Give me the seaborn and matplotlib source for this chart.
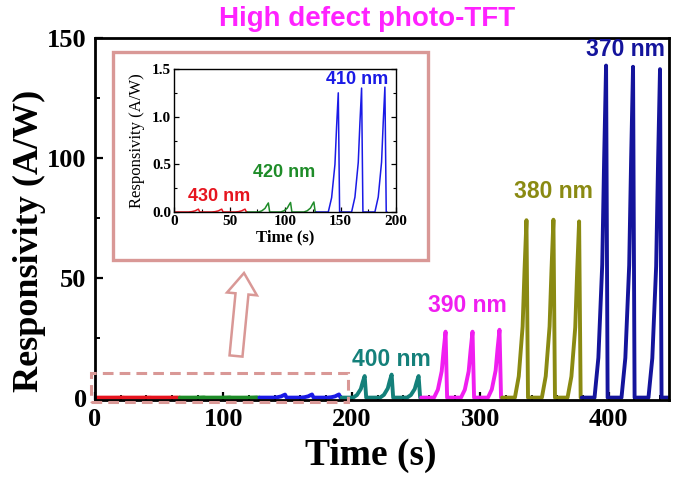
import matplotlib
matplotlib.use("Agg")
import matplotlib.pyplot as plt
from matplotlib.patches import Rectangle, FancyArrow
from matplotlib.ticker import MultipleLocator, FormatStrFormatter
import pandas as pd
import seaborn as sns

# ---- data ----
wavelengths = ["430 nm", "420 nm", "410 nm", "400 nm", "390 nm", "380 nm", "370 nm"]
colors = ["#E6141E", "#1E8C28", "#1A1AE6", "#14807A", "#F01EF0", "#8A8A12", "#14149C"]
seg_edges = [0, 66, 128, 192, 254, 317, 379, 447]
peak_times = [
    [22, 43, 64],
    [85, 105, 126],
    [148, 169, 190],
    [210, 231, 252],
    [273, 294, 315],
    [336, 357, 377],
    [398, 419, 440],
]
peak_heights = [
    [0.03, 0.03, 0.03],
    [0.095, 0.10, 0.105],
    [1.25, 1.30, 1.31],
    [9.0, 9.6, 9.0],
    [27.5, 27.5, 28.3],
    [74.0, 74.2, 73.5],
    [138.5, 138.0, 137.0],
]
# shape of one light pulse: seconds from the peak, fraction of the peak
pulse_offsets = [-9.0, -6.0, -3.0, -1.5, 0.0, 1.2]
pulse_fracs = [0.0, 0.12, 0.40, 0.72, 1.0, 0.0]

xticks_main = [0, 100, 200, 300, 400]
yticks_main = [0, 50, 100, 150]
label_pos_main = {"400 nm": (231, 16), "390 nm": (290, 38.5),
                  "380 nm": (357, 86), "370 nm": (413, 145)}
label_pos_inset = {"430 nm": (41, 0.16), "420 nm": (99, 0.41), "410 nm": (165, 1.385)}

PINK = "#D99896"
SANS = ["Liberation Sans", "DejaVu Sans"]


def build_frame():
    rows = []
    for i, wl in enumerate(wavelengths):
        t = [seg_edges[i]]
        r = [0.0]
        for tp, hp in zip(peak_times[i], peak_heights[i]):
            for off, fr in zip(pulse_offsets, pulse_fracs):
                t.append(tp + off)
                r.append(hp * fr)
        t.append(seg_edges[i + 1])
        r.append(0.0)
        for tt, rr in zip(t, r):
            rows.append({"time": tt, "resp": rr, "wavelength": wl})
    return pd.DataFrame(rows)


df = build_frame()
palette = dict(zip(wavelengths, colors))

sns.set_theme(style="ticks")
plt.rcParams["font.family"] = ["Liberation Serif", "DejaVu Serif"]
plt.rcParams["xtick.direction"] = "in"
plt.rcParams["ytick.direction"] = "in"
for key in ["text.color", "axes.labelcolor", "xtick.color", "ytick.color",
            "axes.edgecolor"]:
    plt.rcParams[key] = "black"

fig = plt.figure(figsize=(6.75, 4.79), dpi=100)
W, H = 675.0, 479.0

# ---- main axes ----
ax = fig.add_axes([95 / W, 1 - 400 / H, 574 / W, 362 / H])
sns.lineplot(data=df, x="time", y="resp", hue="wavelength", palette=palette,
             units="wavelength", estimator=None, sort=False, lw=2.8,
             legend=False, ax=ax)
ax.set_xlim(0, 447)
ax.set_ylim(-1, 150)
ax.set_xticks(xticks_main)
ax.set_yticks(yticks_main)
ax.xaxis.set_minor_locator(MultipleLocator(20))
ax.yaxis.set_minor_locator(MultipleLocator(25))
ax.tick_params(which="major", length=6, width=1.6, labelsize=19, pad=6)
ax.tick_params(which="minor", length=3.5, width=1.4)
for lab in ax.get_xticklabels() + ax.get_yticklabels():
    lab.set_fontweight("bold")
for s in ax.spines.values():
    s.set_linewidth(2.0)
ax.set_xlabel("Time (s)", fontsize=27, fontweight="bold")
ax.xaxis.set_label_coords(0.48, -0.105)
ax.set_ylabel("Responsivity (A/W)", fontsize=26, fontweight="bold")
ax.yaxis.set_label_coords(-0.085, 0.44)
fig.text(367 / W, 1 - 19 / H, "High defect photo-TFT", fontsize=20,
         fontweight="bold", color="#FF22FF", family=SANS,
         ha="center", va="center")

for wl, (tx, ty) in label_pos_main.items():
    ax.text(tx, ty, wl, color=palette[wl], fontsize=16.5, fontweight="bold",
            family=SANS, ha="center", va="center")

# dashed box marking the zoomed region
ax.add_patch(Rectangle((-3, -2), 200, 12.4, fill=False, ec=PINK, lw=2.2,
                       ls=(0, (3.5, 2)), clip_on=False, zorder=5))

# ---- inset ----
ins = fig.add_axes([174 / W, 1 - 212 / H, 222 / W, 143 / H])
inset_df = df[df["wavelength"].isin(wavelengths[:3])]
sns.lineplot(data=inset_df, x="time", y="resp", hue="wavelength", palette=palette,
             units="wavelength", estimator=None, sort=False, lw=1.1,
             legend=False, ax=ins)
ins.set_xlim(0, 200)
ins.set_ylim(0, 1.5)
ins.set_xticks([0, 50, 100, 150, 200])
ins.set_yticks([0.0, 0.5, 1.0, 1.5])
ins.xaxis.set_minor_locator(MultipleLocator(25))
ins.yaxis.set_minor_locator(MultipleLocator(0.25))
ins.yaxis.set_major_formatter(FormatStrFormatter("%.1f"))
ins.tick_params(which="both", right=True, labelsize=11, pad=2)
ins.tick_params(which="major", length=3.5, width=0.9)
ins.tick_params(which="minor", length=2, width=0.8)
for lab in ins.get_xticklabels() + ins.get_yticklabels():
    lab.set_fontweight("bold")
for s in ins.spines.values():
    s.set_linewidth(1.0)
ins.set_xlabel("Time (s)", fontsize=12, fontweight="bold", labelpad=1)
ins.set_ylabel("Responsivity (A/W)", fontsize=12, labelpad=5)
for wl, (tx, ty) in label_pos_inset.items():
    ins.text(tx, ty, wl, color=palette[wl], fontsize=13, fontweight="bold",
             family=SANS, ha="center", va="center")

# ---- decorations in pixel space: inset frame and arrow ----
deco = fig.add_axes([0, 0, 1, 1])
deco.set_xlim(0, W)
deco.set_ylim(H, 0)
deco.axis("off")
deco.add_patch(Rectangle((113, 52), 315, 208, fill=False, ec=PINK, lw=2.4))
deco.add_patch(FancyArrow(236, 356, 8, -83, width=13, head_width=30,
                          head_length=21, length_includes_head=True,
                          fc="white", ec=PINK, lw=1.8))

fig.savefig("out.png", dpi=100)
